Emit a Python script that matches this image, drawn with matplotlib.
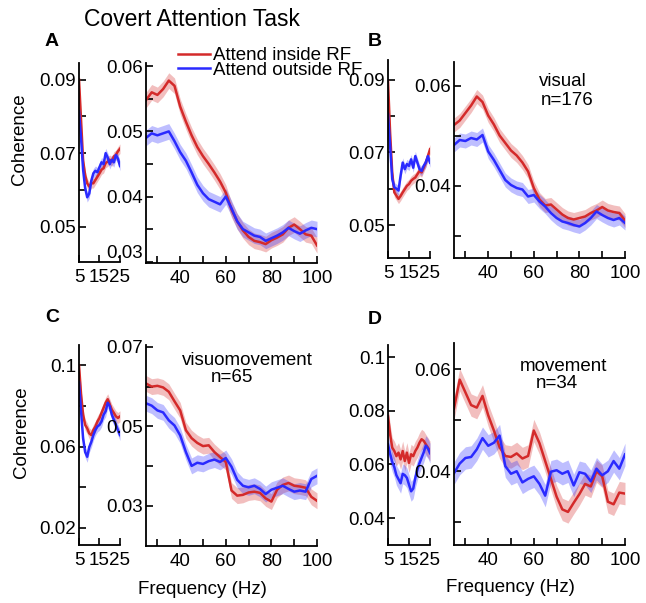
import numpy as np
import matplotlib.pyplot as plt

plt.rcParams['font.family'] = ['Liberation Sans', 'DejaVu Sans']

W, H = 646, 603
RED = '#d42a2a'
BLUE = '#2a2aff'
FS = 13.5

# frequency grids (Hz)
f_low = [5, 6, 7, 8, 9, 10, 11, 12, 13, 14, 15, 16, 17, 18, 19, 20, 21, 22, 23, 24, 25]
f_high = [25, 27.5, 30, 32.5, 35, 37.5, 40, 42.5, 45, 47.5, 50, 52.5, 55, 57.5, 60,
          62.5, 65, 67.5, 70, 72.5, 75, 77.5, 80, 82.5, 85, 87.5, 90, 92.5, 95, 97.5, 100]

# A - all cells
A_low_red = [0.0900, 0.0790, 0.0680, 0.0640, 0.0618, 0.0609, 0.0618, 0.0618, 0.0627, 0.0636, 0.0645,
             0.0655, 0.0659, 0.0673, 0.0677, 0.0682, 0.0677, 0.0691, 0.0695, 0.0705, 0.0712]
A_low_blue = [0.0814, 0.0740, 0.0655, 0.0605, 0.0580, 0.0590, 0.0625, 0.0645, 0.0652, 0.0648, 0.0662,
              0.0675, 0.0670, 0.0700, 0.0688, 0.0670, 0.0682, 0.0675, 0.0695, 0.0685, 0.0665]
A_high_red = [0.0548, 0.0560, 0.0556, 0.0565, 0.0578, 0.0570, 0.0538, 0.0515, 0.0494, 0.0476, 0.0462,
              0.0450, 0.0437, 0.0423, 0.0406, 0.0380, 0.0362, 0.0348, 0.0338, 0.0332, 0.0330, 0.0327,
              0.0333, 0.0337, 0.0342, 0.0352, 0.0357, 0.0350, 0.0342, 0.0340, 0.0325]
A_high_blue = [0.0490, 0.0497, 0.0494, 0.0497, 0.0500, 0.0485, 0.0468, 0.0455, 0.0437, 0.0418, 0.0405,
               0.0396, 0.0392, 0.0388, 0.0400, 0.0382, 0.0362, 0.0350, 0.0345, 0.0340, 0.0338, 0.0332,
               0.0336, 0.0340, 0.0345, 0.0352, 0.0347, 0.0343, 0.0348, 0.0352, 0.0350]

# B - visual
B_low_red = [0.0897, 0.0755, 0.0645, 0.0590, 0.0581, 0.0572, 0.0580, 0.0590, 0.0599, 0.0608, 0.0613,
             0.0622, 0.0627, 0.0631, 0.0640, 0.0649, 0.0645, 0.0658, 0.0672, 0.0690, 0.0709]
B_low_blue = [0.0806, 0.0719, 0.0627, 0.0604, 0.0600, 0.0595, 0.0636, 0.0672, 0.0654, 0.0668, 0.0663,
              0.0681, 0.0658, 0.0690, 0.0672, 0.0654, 0.0649, 0.0663, 0.0672, 0.0690, 0.0672]
B_high_red = [0.0521, 0.0530, 0.0545, 0.0560, 0.0578, 0.0567, 0.0540, 0.0522, 0.0500, 0.0485, 0.0470,
              0.0460, 0.0446, 0.0428, 0.0395, 0.0372, 0.0360, 0.0362, 0.0352, 0.0342, 0.0335, 0.0332,
              0.0335, 0.0338, 0.0345, 0.0350, 0.0357, 0.0350, 0.0347, 0.0345, 0.0330]
B_high_blue = [0.0481, 0.0491, 0.0489, 0.0495, 0.0492, 0.0501, 0.0468, 0.0451, 0.0431, 0.0411, 0.0401,
               0.0395, 0.0392, 0.0378, 0.0381, 0.0368, 0.0358, 0.0345, 0.0335, 0.0328, 0.0325, 0.0321,
               0.0318, 0.0325, 0.0335, 0.0348, 0.0341, 0.0335, 0.0331, 0.0335, 0.0325]

# C - visuomovement
C_low_red = [0.1000, 0.0858, 0.0757, 0.0707, 0.0690, 0.0665, 0.0657, 0.0682, 0.0699, 0.0724, 0.0741,
             0.0766, 0.0791, 0.0816, 0.0833, 0.0808, 0.0782, 0.0766, 0.0749, 0.0741, 0.0749]
C_low_blue = [0.0916, 0.0774, 0.0640, 0.0573, 0.0550, 0.0598, 0.0623, 0.0657, 0.0682, 0.0699, 0.0707,
              0.0724, 0.0757, 0.0774, 0.0816, 0.0799, 0.0757, 0.0732, 0.0707, 0.0682, 0.0657]
C_high_red = [0.0608, 0.0600, 0.0602, 0.0598, 0.0587, 0.0563, 0.0540, 0.0490, 0.0470, 0.0458, 0.0450,
              0.0452, 0.0435, 0.0422, 0.0410, 0.0338, 0.0325, 0.0327, 0.0333, 0.0335, 0.0332, 0.0318,
              0.0310, 0.0340, 0.0352, 0.0357, 0.0350, 0.0348, 0.0345, 0.0322, 0.0312]
C_high_blue = [0.0558, 0.0552, 0.0540, 0.0535, 0.0515, 0.0502, 0.0477, 0.0435, 0.0400, 0.0408, 0.0405,
               0.0412, 0.0416, 0.0410, 0.0420, 0.0398, 0.0365, 0.0350, 0.0346, 0.0350, 0.0342, 0.0329,
               0.0340, 0.0345, 0.0350, 0.0342, 0.0335, 0.0338, 0.0335, 0.0367, 0.0375]

# D - movement
D_low_red = [0.0780, 0.0713, 0.0663, 0.0650, 0.0631, 0.0644, 0.0619, 0.0650, 0.0613, 0.0644, 0.0606,
             0.0638, 0.0631, 0.0650, 0.0663, 0.0681, 0.0694, 0.0688, 0.0675, 0.0663, 0.0650]
D_low_blue = [0.0675, 0.0640, 0.0610, 0.0590, 0.0560, 0.0545, 0.0530, 0.0565, 0.0560, 0.0550, 0.0525,
              0.0500, 0.0510, 0.0550, 0.0580, 0.0605, 0.0625, 0.0645, 0.0670, 0.0660, 0.0642]
D_high_red = [0.0523, 0.0580, 0.0555, 0.0530, 0.0525, 0.0548, 0.0510, 0.0480, 0.0447, 0.0430, 0.0428,
              0.0435, 0.0425, 0.0430, 0.0480, 0.0455, 0.0420, 0.0385, 0.0350, 0.0325, 0.0320, 0.0338,
              0.0355, 0.0375, 0.0370, 0.0400, 0.0390, 0.0340, 0.0335, 0.0358, 0.0356]
D_high_blue = [0.0396, 0.0415, 0.0426, 0.0428, 0.0443, 0.0465, 0.0450, 0.0456, 0.0470, 0.0410, 0.0395,
               0.0400, 0.0378, 0.0385, 0.0390, 0.0375, 0.0352, 0.0399, 0.0402, 0.0395, 0.0400, 0.0372,
               0.0398, 0.0395, 0.0380, 0.0405, 0.0392, 0.0400, 0.0420, 0.0405, 0.0433]

# half-width of shaded error bands
sem_low = {'A': 0.0013, 'B': 0.0013, 'C': 0.0027, 'D': 0.0037}
sem_high = {'A': 0.0012, 'B': 0.0014, 'C': 0.0020, 'D': 0.0022}

fig = plt.figure(figsize=(W / 100, H / 100), dpi=100)


def add_axes(left, top, right, bottom):
    # box given in pixels from the top-left corner
    return fig.add_axes([left / W, 1 - bottom / H, (right - left) / W, (bottom - top) / H])


def trace(ax, f, red, blue, sem):
    handles = []
    for vals, c in ((red, RED), (blue, BLUE)):
        v = np.array(vals)
        ax.fill_between(f, v - sem, v + sem, color=c, alpha=0.3, lw=0)
        handles += ax.plot(f, v, color=c, lw=1.8)
    return handles


def style(ax):
    for s in ('top', 'right'):
        ax.spines[s].set_visible(False)
    ax.spines['left'].set_linewidth(1.3)
    ax.spines['bottom'].set_linewidth(1.3)
    ax.tick_params(which='both', direction='in', length=5, width=1.2, labelsize=FS)
    ax.tick_params(axis='y', which='both', pad=2)
    ax.tick_params(axis='x', which='both', pad=5)


def low_axes(ax, ylim, yt, ylab, yminor):
    ax.set_xlim(5, 25)
    ax.set_xticks([5, 15, 25], ['5', '15', '25'])
    ax.set_ylim(*ylim)
    ax.set_yticks(yt, ylab)
    ax.set_yticks(yminor, minor=True)
    style(ax)


def high_axes(ax, ylim, yt, ylab, yminor):
    ax.set_xlim(25, 100)
    ax.set_xticks([40, 60, 80, 100], ['40', '60', '80', '100'])
    ax.set_xticks([30, 50, 70, 90], minor=True)
    ax.set_ylim(*ylim)
    ax.set_yticks(yt, ylab)
    ax.set_yticks(yminor, minor=True)
    style(ax)


# panel A
ax = add_axes(79, 63, 120, 262)
trace(ax, f_low, A_low_red, A_low_blue, sem_low['A'])
low_axes(ax, (0.0404, 0.0945), [0.09, 0.07, 0.05], ['0.09', '0.07', '0.05'], [0.08, 0.06])
ax = add_axes(146, 63, 317, 263)
leg_lines = trace(ax, f_high, A_high_red, A_high_blue, sem_high['A'])
high_axes(ax, (0.0298, 0.0605), [0.06, 0.05, 0.04, 0.03], ['0.06', '0.05', '0.04', '0.03'],
          [0.055, 0.045, 0.035])
# bottom label sits a little above the axis line, as in the original
ax.get_yticklabels()[-1].set_verticalalignment('bottom')

# panel B
ax = add_axes(388, 60, 430, 258)
trace(ax, f_low, B_low_red, B_low_blue, sem_low['B'])
low_axes(ax, (0.0409, 0.0955), [0.09, 0.07, 0.05], ['0.09', '0.07', '0.05'], [0.08, 0.06])
ax = add_axes(454, 62, 625, 258)
trace(ax, f_high, B_high_red, B_high_blue, sem_high['B'])
high_axes(ax, (0.0255, 0.0647), [0.06, 0.04], ['0.06', '0.04'], [0.05, 0.03])
ax.text(0.637, 0.898, 'visual', transform=ax.transAxes, ha='center', va='center', fontsize=FS)
ax.text(0.661, 0.806, 'n=176', transform=ax.transAxes, ha='center', va='center', fontsize=FS)

# panel C
ax = add_axes(79, 345, 120, 545)
trace(ax, f_low, C_low_red, C_low_blue, sem_low['C'])
low_axes(ax, (0.0116, 0.110), [0.1, 0.06, 0.02], ['0.1', '0.06', '0.02'], [0.08, 0.04])
ax = add_axes(146, 345, 317, 546)
trace(ax, f_high, C_high_red, C_high_blue, sem_high['C'])
high_axes(ax, (0.0198, 0.0705), [0.07, 0.05, 0.03], ['0.07', '0.05', '0.03'], [0.06, 0.04])
ax.text(0.59, 0.925, 'visuomovement', transform=ax.transAxes, ha='center', va='center', fontsize=FS)
ax.text(0.503, 0.838, 'n=65', transform=ax.transAxes, ha='center', va='center', fontsize=FS)

# panel D
ax = add_axes(388, 345, 430, 545)
trace(ax, f_low, D_low_red, D_low_blue, sem_low['D'])
low_axes(ax, (0.030, 0.1045), [0.1, 0.08, 0.06, 0.04], ['0.1', '0.08', '0.06', '0.04'], [])
ax = add_axes(454, 343, 625, 545)
trace(ax, f_high, D_high_red, D_high_blue, sem_high['D'])
high_axes(ax, (0.0255, 0.0652), [0.06, 0.04], ['0.06', '0.04'], [0.05, 0.03])
ax.text(0.643, 0.885, 'movement', transform=ax.transAxes, ha='center', va='center', fontsize=FS)
ax.text(0.602, 0.800, 'n=34', transform=ax.transAxes, ha='center', va='center', fontsize=FS)

# figure texts
fig.text(192 / W, 1 - 20 / H, 'Covert Attention Task', ha='center', va='center', fontsize=16.5)
for letter, x, y in (('A', 52, 42), ('B', 375, 42), ('C', 52, 318), ('D', 375, 320)):
    fig.text(x / W, 1 - y / H, letter, ha='center', va='center', fontsize=14, fontweight='bold')
fig.text(20 / W, 1 - 139 / H, 'Coherence', rotation=90, ha='center', va='center', fontsize=FS)
fig.text(22 / W, 1 - 432 / H, 'Coherence', rotation=90, ha='center', va='center', fontsize=FS)
fig.text(202 / W, 1 - 590 / H, 'Frequency (Hz)', ha='center', va='center', fontsize=FS)
fig.text(510 / W, 1 - 588 / H, 'Frequency (Hz)', ha='center', va='center', fontsize=FS)

fig.legend(leg_lines, ['Attend inside RF', 'Attend outside RF'], loc='upper left',
           bbox_to_anchor=(178 / W, 1 - 47 / H), frameon=False, fontsize=FS,
           handlelength=1.7, handletextpad=0.15, labelspacing=-0.12,
           borderpad=0, borderaxespad=0)

fig.savefig('out.png', dpi=100)
